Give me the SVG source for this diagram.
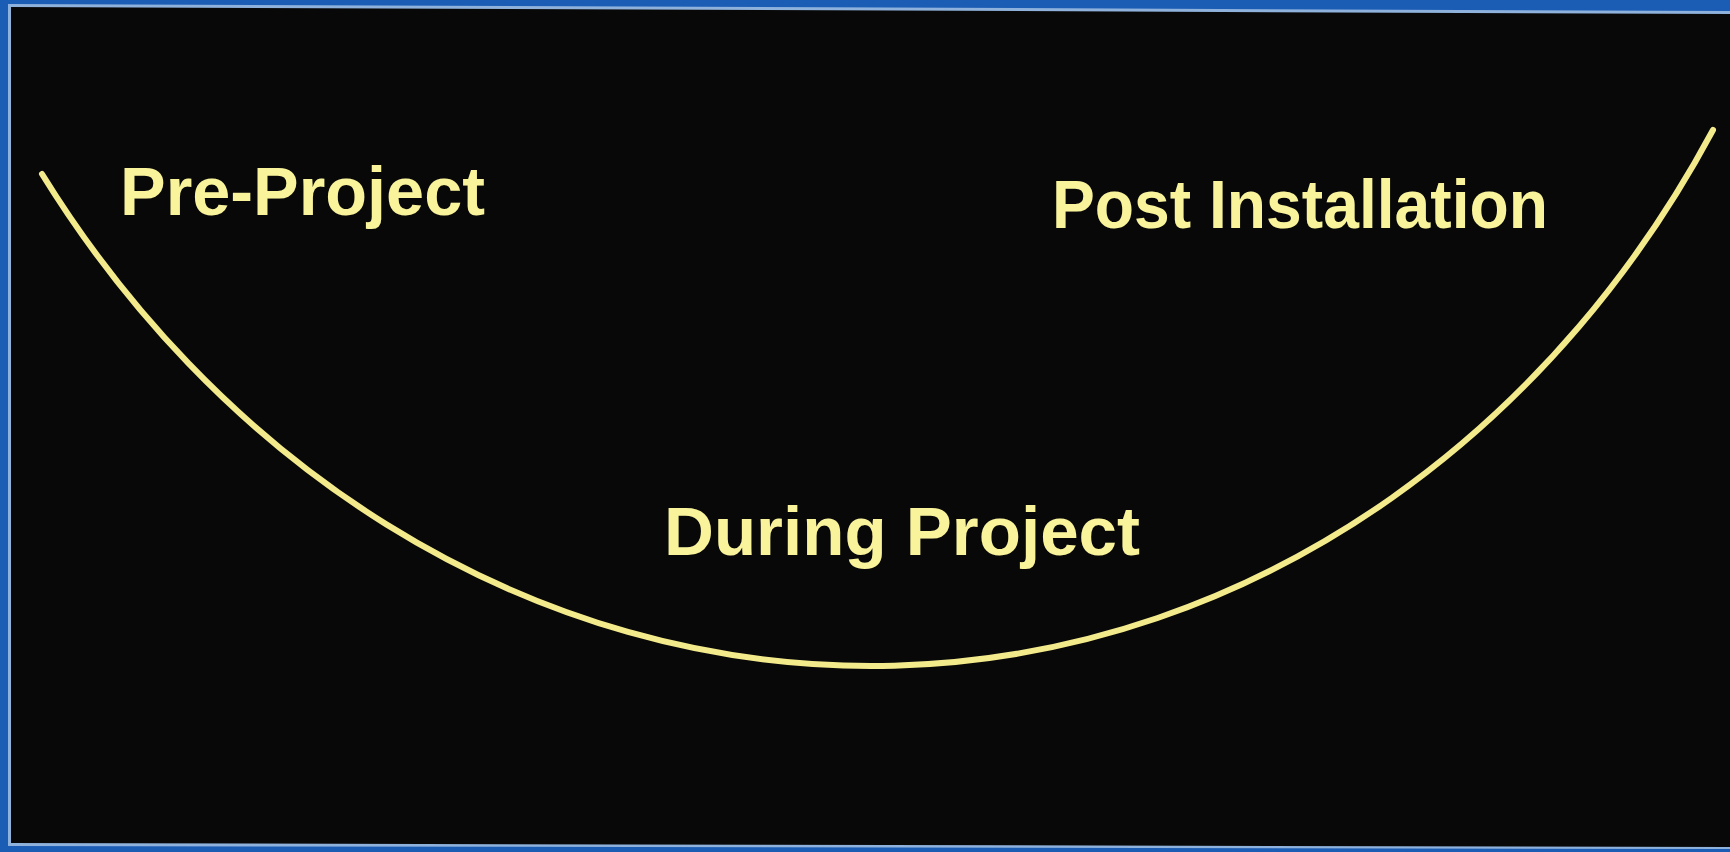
<svg xmlns="http://www.w3.org/2000/svg" width="1730" height="852" viewBox="0 0 1730 852">
  <style>
    .lbl { font-family: "Liberation Sans", Arial, sans-serif; font-weight: bold; font-size: 68px; fill: #f9f39c; }
    .arc { fill: none; stroke: #f3ea8c; stroke-width: 6; stroke-linecap: round; }
  </style>
  <rect x="0" y="0" width="1730" height="852" fill="#1b5cb4"/>
  <polygon points="8,4 1730,11 1730,849 8,846" fill="#8fb2dc"/>
  <polygon points="11,7 1730,14 1730,847 11,843" fill="#080808"/>
  <g id="connectors">
    <path class="arc" d="M42,174 A1000,1140 -3 0,0 1713,130"/>
  </g>
  <g id="pre-project">
    <text class="lbl" x="120" y="215" textLength="365" lengthAdjust="spacingAndGlyphs">Pre-Project</text>
  </g>
  <g id="post-installation">
    <text class="lbl" x="1052" y="228" textLength="496" lengthAdjust="spacingAndGlyphs">Post Installation</text>
  </g>
  <g id="during-project">
    <text class="lbl" x="664" y="555" textLength="476" lengthAdjust="spacingAndGlyphs">During Project</text>
  </g>
</svg>
